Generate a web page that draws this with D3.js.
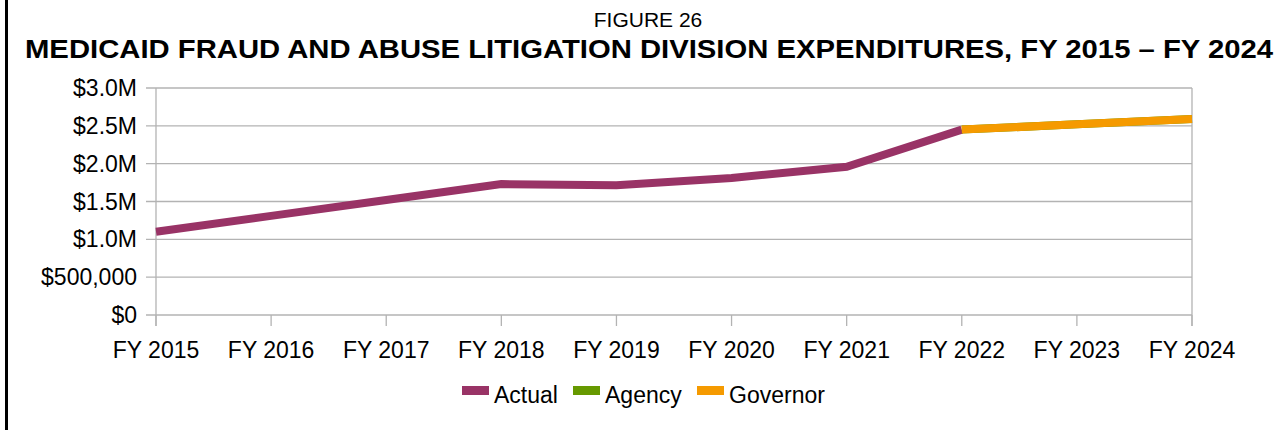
<!DOCTYPE html>
<html><head><meta charset="utf-8">
<script src="https://cdn.jsdelivr.net/npm/d3@7"></script>
<style>body{margin:0;background:#fff}svg{display:block;font-family:"Liberation Sans",Arial,sans-serif}</style>
</head><body><svg id="c" width="1288" height="430"></svg>
<script>
const years = ["FY 2015","FY 2016","FY 2017","FY 2018","FY 2019","FY 2020","FY 2021","FY 2022","FY 2023","FY 2024"];
const actual = [1100000,1310000,1520000,1730000,1715000,1810000,1960000,2450000,null,null];
const agency = [null,null,null,null,null,null,null,2450000,2520000,2590000];
const governor = [null,null,null,null,null,null,null,2450000,2520000,2590000];
const yTicks = [0,500000,1000000,1500000,2000000,2500000,3000000];
const yTickLabels = ["$0","$500,000","$1.0M","$1.5M","$2.0M","$2.5M","$3.0M"];
const seriesNames = ["Actual","Agency","Governor"];
const seriesColors = ["#993366","#669900","#f59a00"];

const svg = d3.select("#c");
svg.append("rect").attr("x",5).attr("y",0).attr("width",3).attr("height",430).attr("fill","#000");

svg.append("text").attr("x",648).attr("y",27).attr("text-anchor","middle").attr("font-size",21).text("FIGURE 26");
svg.append("text").attr("x",25).attr("y",58).attr("font-size",26).attr("font-weight","bold")
  .attr("textLength",1248).attr("lengthAdjust","spacingAndGlyphs")
  .text("MEDICAID FRAUD AND ABUSE LITIGATION DIVISION EXPENDITURES, FY 2015 – FY 2024");

const x = d3.scalePoint().domain(years).range([156,1192]);
const y = d3.scaleLinear().domain([0,3000000]).range([315,88]);
const grey = "#b3b3b3";

const g = svg.append("g");
g.selectAll("line.grid").data(yTicks).enter().append("line")
 .attr("x1",146).attr("x2",1192).attr("y1",d=>y(d)).attr("y2",d=>y(d)).attr("stroke",grey).attr("stroke-width",1.3);
g.append("line").attr("x1",156).attr("x2",156).attr("y1",88).attr("y2",326).attr("stroke",grey).attr("stroke-width",1.3);
g.append("line").attr("x1",1192).attr("x2",1192).attr("y1",88).attr("y2",326).attr("stroke",grey).attr("stroke-width",1.3);
g.selectAll("line.xt").data(years).enter().append("line")
 .attr("x1",d=>x(d)).attr("x2",d=>x(d)).attr("y1",315).attr("y2",326).attr("stroke",grey).attr("stroke-width",1.3);

g.selectAll("text.yl").data(yTicks).enter().append("text")
 .attr("x",137).attr("y",d=>y(d)+8).attr("text-anchor","end").attr("font-size",23).attr("fill","#000")
 .text((d,i)=>yTickLabels[i]);
g.selectAll("text.xl").data(years).enter().append("text")
 .attr("x",d=>x(d)).attr("y",358).attr("text-anchor","middle").attr("font-size",23).attr("fill","#000").text(d=>d);

const line = d3.line().defined(d=>d.v!=null).x(d=>x(d.k)).y(d=>y(d.v));
[actual,agency,governor].forEach((arr,i)=>{
  svg.append("path").datum(years.map((k,j)=>({k,v:arr[j]})))
   .attr("d",line).attr("fill","none").attr("stroke",seriesColors[i]).attr("stroke-width",8);
});

const legX = [462,573,697];
seriesNames.forEach((n,i)=>{
  svg.append("rect").attr("x",legX[i]).attr("y",386).attr("width",27).attr("height",9).attr("fill",seriesColors[i]);
  svg.append("text").attr("x",legX[i]+32).attr("y",403).attr("font-size",23).text(n);
});
</script></body></html>
